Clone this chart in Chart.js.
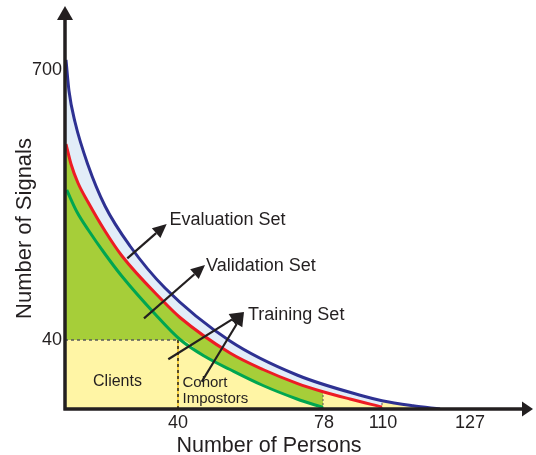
<!DOCTYPE html>
<html>
<head>
<meta charset="utf-8">
<script src="https://cdn.jsdelivr.net/npm/chart.js@4.4.1/dist/chart.umd.min.js"></script>
<style>
  html, body { margin: 0; padding: 0; background: #fff; }
  canvas { display: block; }
</style>
</head>
<body>
<canvas id="chart" width="536" height="455"></canvas>
<script>
// Schematic chart: axes are not to scale, so points are schematic positions
// [persons position, signals position].
const evaluationSet = [[1,349],[4,318],[10,287],[23,244],[40,203],[65,163],[100,121],[165,68],[232,34],[298,13],[317,8.3],[348,3.3],[375,0]];
const validationSet = [[1,265],[6,245],[13,226],[23,207],[40,178],[57,153],[97,109],[115,91.5],[165,56],[198,39.5],[232,25.7],[258,17.3],[285,10],[317,2]];
const trainingSet = [[1.7,219],[12,197],[23.3,179],[40,155],[56.7,133],[90,95],[115,69.5],[140,52.5],[165,39.5],[198,23.5],[232,10],[258,1.5]];

// tick positions on the schematic axes and the labels printed there
const xTickPos = [113, 259, 318, 405];
const xTickLabels = ['40', '78', '110', '127'];
const yTickPos = [339, 69];
const yTickLabels = ['700', '40'];

// split points: clients (x=40, y=40), end of training (78), end of validation (110)
const clientsX = 113, clientsY = 69, trainEndX = 258, validEndX = 317;

const COLORS = {
  ink: '#231f20',
  blue: '#2e3192',
  red: '#ed1c24',
  green: '#00a651',
  greenFill: '#a6ce39',
  blueFill: '#e2edf8',
  yellow: '#fff5a5',
  gold: '#f5c51e',
  guide: '#58595b'
};
const FONT = '"Liberation Sans", Arial, sans-serif';

const pts = arr => arr.map(p => ({ x: p[0], y: p[1] }));
const upTo = (arr, x) => arr.filter(p => p[0] <= x);

// lower edge of the green region: flat at 40 signals, then the training curve
const lowerEdge = [[0, clientsY], [clientsX, clientsY]].concat(trainingSet.filter(p => p[0] > clientsX));

const notes = [
  { text: 'Evaluation Set', x: 104.5, y: 184, size: 18, align: 'left' },
  { text: 'Validation Set', x: 141, y: 138.5, size: 18, align: 'left' },
  { text: 'Training Set', x: 183, y: 89, size: 18, align: 'left' },
  { text: 'Clients', x: 52.5, y: 23.5, size: 16, align: 'center' },
  { text: 'Cohort', x: 117.5, y: 22.5, size: 15, align: 'left' },
  { text: 'Impostors', x: 117.5, y: 6, size: 15, align: 'left' },
  { text: 'Number of Persons', x: 204, y: -42.5, size: 21.5, align: 'center' }
];
const pointers = [
  { from: [62.3, 150.7], to: [101.7, 185] },
  { from: [79, 90.7], to: [140, 144] },
  { from: [103.3, 49.7], to: [179, 97] },
  { from: [136.7, 27.3], to: [179, 97] }
];

function curve(data, color) {
  return {
    data: pts(data), borderColor: color, borderWidth: 3, pointRadius: 0,
    fill: false, cubicInterpolationMode: 'monotone', order: 0
  };
}
function area(data, fill, color, order) {
  return {
    data: pts(data), borderWidth: 0, borderColor: 'transparent', pointRadius: 0,
    backgroundColor: color, fill: fill, cubicInterpolationMode: 'monotone', order: order
  };
}
function guide(data, color, dash, width, order) {
  return {
    data: pts(data), borderColor: color, borderWidth: width, borderDash: dash,
    pointRadius: 0, fill: false, order: order
  };
}

const annotate = {
  id: 'annotate',
  afterDatasetsDraw(chart) {
    const { ctx, chartArea: a, scales: { x, y } } = chart;
    ctx.save();
    ctx.fillStyle = COLORS.ink;
    ctx.strokeStyle = COLORS.ink;

    // axes with arrow heads
    ctx.lineWidth = 3.5;
    ctx.beginPath();
    ctx.moveTo(a.left, a.bottom + 1.5);
    ctx.lineTo(a.left, a.top);
    ctx.moveTo(a.left - 1.5, a.bottom);
    ctx.lineTo(a.right, a.bottom);
    ctx.stroke();
    ctx.beginPath();
    ctx.moveTo(a.left, a.top - 13);
    ctx.lineTo(a.left - 8, a.top + 1);
    ctx.lineTo(a.left + 8, a.top + 1);
    ctx.closePath();
    ctx.fill();
    ctx.beginPath();
    ctx.moveTo(a.right + 10, a.bottom);
    ctx.lineTo(a.right - 1, a.bottom - 7.5);
    ctx.lineTo(a.right - 1, a.bottom + 7.5);
    ctx.closePath();
    ctx.fill();

    // pointer arrows
    ctx.lineWidth = 2.2;
    pointers.forEach(p => {
      const x0 = x.getPixelForValue(p.from[0]), y0 = y.getPixelForValue(p.from[1]);
      const x1 = x.getPixelForValue(p.to[0]), y1 = y.getPixelForValue(p.to[1]);
      const ang = Math.atan2(y1 - y0, x1 - x0);
      const len = 14, half = 6.5;
      const bx = x1 - len * Math.cos(ang), by = y1 - len * Math.sin(ang);
      ctx.beginPath();
      ctx.moveTo(x0, y0);
      ctx.lineTo(bx, by);
      ctx.stroke();
      ctx.beginPath();
      ctx.moveTo(x1, y1);
      ctx.lineTo(bx + half * Math.sin(ang), by - half * Math.cos(ang));
      ctx.lineTo(bx - half * Math.sin(ang), by + half * Math.cos(ang));
      ctx.closePath();
      ctx.fill();
    });

    // text
    ctx.textBaseline = 'alphabetic';
    notes.forEach(n => {
      ctx.font = n.size + 'px ' + FONT;
      ctx.textAlign = n.align;
      ctx.fillText(n.text, x.getPixelForValue(n.x), y.getPixelForValue(n.y));
    });
    ctx.translate(x.getPixelForValue(-40), y.getPixelForValue(180.5));
    ctx.rotate(-Math.PI / 2);
    ctx.font = '22px ' + FONT;
    ctx.textAlign = 'center';
    ctx.textBaseline = 'middle';
    ctx.fillText('Number of Signals', 0, 0);
    ctx.restore();
  }
};

new Chart(document.getElementById('chart').getContext('2d'), {
  type: 'line',
  data: {
    datasets: [
      curve(evaluationSet, COLORS.blue),
      curve(validationSet, COLORS.red),
      curve(trainingSet, COLORS.green),
      area(evaluationSet, 'origin', COLORS.yellow, 8),
      area(upTo(evaluationSet, validEndX), 1, COLORS.blueFill, 7),
      area(upTo(validationSet, trainEndX), 6, COLORS.greenFill, 6),
      area(lowerEdge, false, 'transparent', 9),
      guide([[0, clientsY], [clientsX, clientsY]], COLORS.guide, [3, 3], 1.5, 3),
      guide([[clientsX, 0], [clientsX, clientsY]], COLORS.gold, [], 1.5, 3),
      guide([[clientsX, 0], [clientsX, clientsY]], COLORS.ink, [3, 3], 1.5, 2),
      guide([[trainEndX, 0], [trainEndX, 17.3]], COLORS.guide, [2, 2], 1, 3),
      guide([[validEndX, 0], [validEndX, 8.3]], COLORS.guide, [2, 2], 1, 3)
    ]
  },
  options: {
    responsive: false,
    animation: false,
    devicePixelRatio: 1,
    layout: { padding: { top: 19, right: 13, left: 0, bottom: 0 } },
    plugins: { legend: { display: false }, tooltip: { enabled: false } },
    scales: {
      x: {
        type: 'linear', min: 0, max: 458,
        grid: { display: false, drawTicks: false },
        border: { display: false },
        afterBuildTicks: s => { s.ticks = xTickPos.map(v => ({ value: v })); },
        afterFit: s => { s.height = 46; },
        ticks: {
          autoSkip: false, maxRotation: 0, padding: 3,
          color: COLORS.ink, font: { family: FONT, size: 18 },
          callback: (v, i) => xTickLabels[i]
        }
      },
      y: {
        type: 'linear', min: 0, max: 390,
        grid: { display: false, drawTicks: false },
        border: { display: false },
        afterBuildTicks: s => { s.ticks = yTickPos.map(v => ({ value: v })); },
        afterFit: s => { s.width = 65; },
        ticks: {
          autoSkip: false, padding: 3,
          color: COLORS.ink, font: { family: FONT, size: 18 },
          callback: (v, i) => yTickLabels[i]
        }
      }
    }
  },
  plugins: [annotate]
});
</script>
</body>
</html>
